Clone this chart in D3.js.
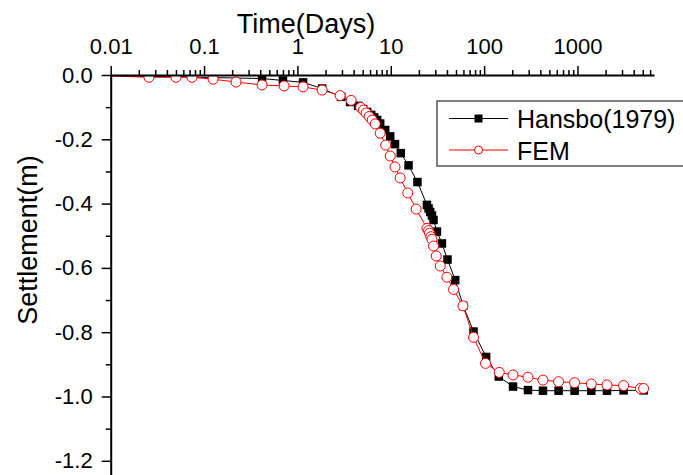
<!DOCTYPE html>
<html lang="en">

<head>
    <meta charset="UTF-8">
    <title>settlement</title>
    <style>
        body { margin: 0; background: #fff; }
        text { font-family: "Liberation Sans", Arial, sans-serif; fill: #000; }
    </style>
</head>

<body>

    <div id="my_dataviz"></div>

    <script src="https://d3js.org/d3.v7.min.js"></script>

    <script type="text/javascript">

        // Hansbo (1979) analytical solution
        var hansboDays = [0.005, 0.418, 0.70, 1.15, 1.84, 2.94, 3.67, 4.48, 5.06, 5.58, 6.17, 6.64, 7.15, 7.70, 8.71,
            9.86, 11.1, 12.8, 15.5, 19.3, 24.4, 25.4, 26.4, 27.6, 28.7, 31.2, 35.3, 40.5, 49.0, 59.7, 77, 105, 143.5,
            204, 295, 427, 627, 931, 1406, 2070, 3120, 5110];
        var hansboSettle = [0, -0.011, -0.017, -0.023, -0.042, -0.068, -0.084, -0.096, -0.106, -0.115, -0.124, -0.132,
            -0.140, -0.151, -0.171, -0.191, -0.215, -0.243, -0.281, -0.333, -0.404, -0.415, -0.426, -0.437, -0.451,
            -0.487, -0.524, -0.574, -0.638, -0.718, -0.798, -0.877, -0.938, -0.969, -0.980, -0.982, -0.982, -0.982,
            -0.982, -0.982, -0.981, -0.981];

        // FEM result
        var femDays = [0.005, 0.0257, 0.050, 0.0743, 0.125, 0.22, 0.418, 0.72, 1.15, 1.84, 2.87, 3.76, 4.76, 5.10, 5.45,
            5.87, 6.32, 6.81, 7.70, 8.81, 9.86, 11.1, 12.6, 15.2, 18.7, 24.4, 25.4, 26.0, 26.9, 27.6, 28.7, 30.7, 33.9,
            39.9, 47.0, 59.3, 77, 103.5, 145, 204, 295, 427, 627, 931, 1406, 2070, 3120, 4710, 5110];
        var femSettle = [0, -0.007, -0.007, -0.007, -0.013, -0.022, -0.031, -0.034, -0.037, -0.047, -0.064, -0.079,
            -0.101, -0.109, -0.118, -0.129, -0.140, -0.152, -0.181, -0.218, -0.252, -0.286, -0.320, -0.367, -0.417,
            -0.477, -0.484, -0.492, -0.503, -0.511, -0.532, -0.563, -0.594, -0.629, -0.667, -0.718, -0.816, -0.897,
            -0.925, -0.933, -0.940, -0.949, -0.954, -0.957, -0.961, -0.964, -0.966, -0.975, -0.975];

        var xTickValues = [0.01, 0.1, 1, 10, 100, 1000];
        var xTickLabels = ["0.01", "0.1", "1", "10", "100", "1000"];
        var yTickValues = [0, -0.2, -0.4, -0.6, -0.8, -1.0, -1.2];
        var yTickLabels = ["0.0", "-0.2", "-0.4", "-0.6", "-0.8", "-1.0", "-1.2"];
        var yMinorValues = [-0.1, -0.3, -0.5, -0.7, -0.9, -1.1];

        var width = 683, height = 475;
        var plotLeft = 110.7, plotTop = 75, plotRight = 654;

        var svg = d3.select("#my_dataviz")
            .append("svg")
            .attr("width", width)
            .attr("height", height);

        var x = d3.scaleLog()
            .domain([0.01, 6600])
            .range([plotLeft, plotRight]);

        var y = d3.scaleLinear()
            .domain([0, -1.25])
            .range([plotTop, plotTop + 1.25 * 321.5]);

        // minor ticks 2..9 in every decade
        var xMinorValues = [];
        xTickValues.forEach(function (d) {
            for (var k = 2; k <= 9; k++) {
                if (d * k <= 6600) xMinorValues.push(d * k);
            }
        });

        svg.append("defs").append("clipPath")
            .attr("id", "plotclip")
            .append("rect")
            .attr("x", plotLeft)
            .attr("y", plotTop)
            .attr("width", plotRight - plotLeft + 20)
            .attr("height", height - plotTop + 10);

        function drawSeries(days, settle, color, symbol) {
            var pts = days.map(function (d, i) { return [d, settle[i]]; });
            var g = svg.append("g").attr("clip-path", "url(#plotclip)");

            g.append("path")
                .datum(pts)
                .attr("fill", "none")
                .attr("stroke", color)
                .attr("stroke-width", 1)
                .attr("d", d3.line()
                    .x(function (d) { return x(d[0]) })
                    .y(function (d) { return y(d[1]) })
                );

            if (symbol == "square") {
                g.selectAll(null)
                    .data(pts)
                    .enter()
                    .append("rect")
                    .attr("x", function (d) { return x(d[0]) - 4.25 })
                    .attr("y", function (d) { return y(d[1]) - 4.25 })
                    .attr("width", 8.5)
                    .attr("height", 8.5)
                    .attr("fill", color);
            } else {
                g.selectAll(null)
                    .data(pts)
                    .enter()
                    .append("circle")
                    .attr("cx", function (d) { return x(d[0]) })
                    .attr("cy", function (d) { return y(d[1]) })
                    .attr("r", 5)
                    .attr("fill", "#fff")
                    .attr("stroke", color)
                    .attr("stroke-width", 1);
            }
        }

        drawSeries(hansboDays, hansboSettle, "#000", "square");
        drawSeries(femDays, femSettle, "#ff0000", "circle");

        // Top X axis (log)
        svg.append("g")
            .attr("transform", "translate(0," + plotTop + ")")
            .call(d3.axisTop(x)
                .tickValues(xTickValues)
                .tickFormat(function (d, i) { return xTickLabels[i]; })
                .tickSizeInner(9)
                .tickSizeOuter(0)
                .tickPadding(12));

        svg.append("g")
            .attr("transform", "translate(0," + plotTop + ")")
            .call(d3.axisTop(x)
                .tickValues(xMinorValues)
                .tickFormat("")
                .tickSizeInner(5)
                .tickSizeOuter(0))
            .select(".domain").remove();

        // Left Y axis
        svg.append("g")
            .attr("transform", "translate(" + plotLeft + ",0)")
            .call(d3.axisLeft(y)
                .tickValues(yTickValues)
                .tickFormat(function (d, i) { return yTickLabels[i]; })
                .tickSizeInner(9)
                .tickSizeOuter(0)
                .tickPadding(9));

        svg.append("g")
            .attr("transform", "translate(" + plotLeft + ",0)")
            .call(d3.axisLeft(y)
                .tickValues(yMinorValues)
                .tickFormat("")
                .tickSizeInner(5)
                .tickSizeOuter(0))
            .select(".domain").remove();

        svg.selectAll(".domain").attr("stroke", "#000").attr("stroke-width", 2);
        svg.selectAll(".tick line").attr("stroke", "#000").attr("stroke-width", 1.5);
        svg.selectAll(".tick text")
            .style("font-size", "22px")
            .style("font-family", "'Liberation Sans', Arial, sans-serif");

        // axis titles
        svg.append("text")
            .attr("x", 306)
            .attr("y", 33)
            .attr("text-anchor", "middle")
            .style("font-size", "27px")
            .text("Time(Days)");

        svg.append("text")
            .attr("transform", "translate(37,240) rotate(-90)")
            .attr("text-anchor", "middle")
            .style("font-size", "27px")
            .text("Settlement(m)");

        // legend
        var legend = svg.append("g");
        legend.append("rect")
            .attr("x", 437)
            .attr("y", 101)
            .attr("width", 270)
            .attr("height", 65)
            .attr("fill", "#fff")
            .attr("stroke", "#555")
            .attr("stroke-width", 1.5);

        var legendRows = [
            { name: "Hansbo(1979)", color: "#000", symbol: "square", ly: 118.5 },
            { name: "FEM", color: "#ff0000", symbol: "circle", ly: 150 }
        ];

        legendRows.forEach(function (r) {
            legend.append("line")
                .attr("x1", 449).attr("x2", 508)
                .attr("y1", r.ly).attr("y2", r.ly)
                .attr("stroke", r.color)
                .attr("stroke-width", 1);
            if (r.symbol == "square") {
                legend.append("rect")
                    .attr("x", 474.5).attr("y", r.ly - 4)
                    .attr("width", 8).attr("height", 8)
                    .attr("fill", r.color);
            } else {
                legend.append("circle")
                    .attr("cx", 478.5).attr("cy", r.ly)
                    .attr("r", 4)
                    .attr("fill", "#fff")
                    .attr("stroke", r.color)
                    .attr("stroke-width", 1);
            }
            legend.append("text")
                .attr("x", 517)
                .attr("y", r.ly + 9.5)
                .style("font-size", "25px")
                .text(r.name);
        });

    </script>

</body>

</html>
